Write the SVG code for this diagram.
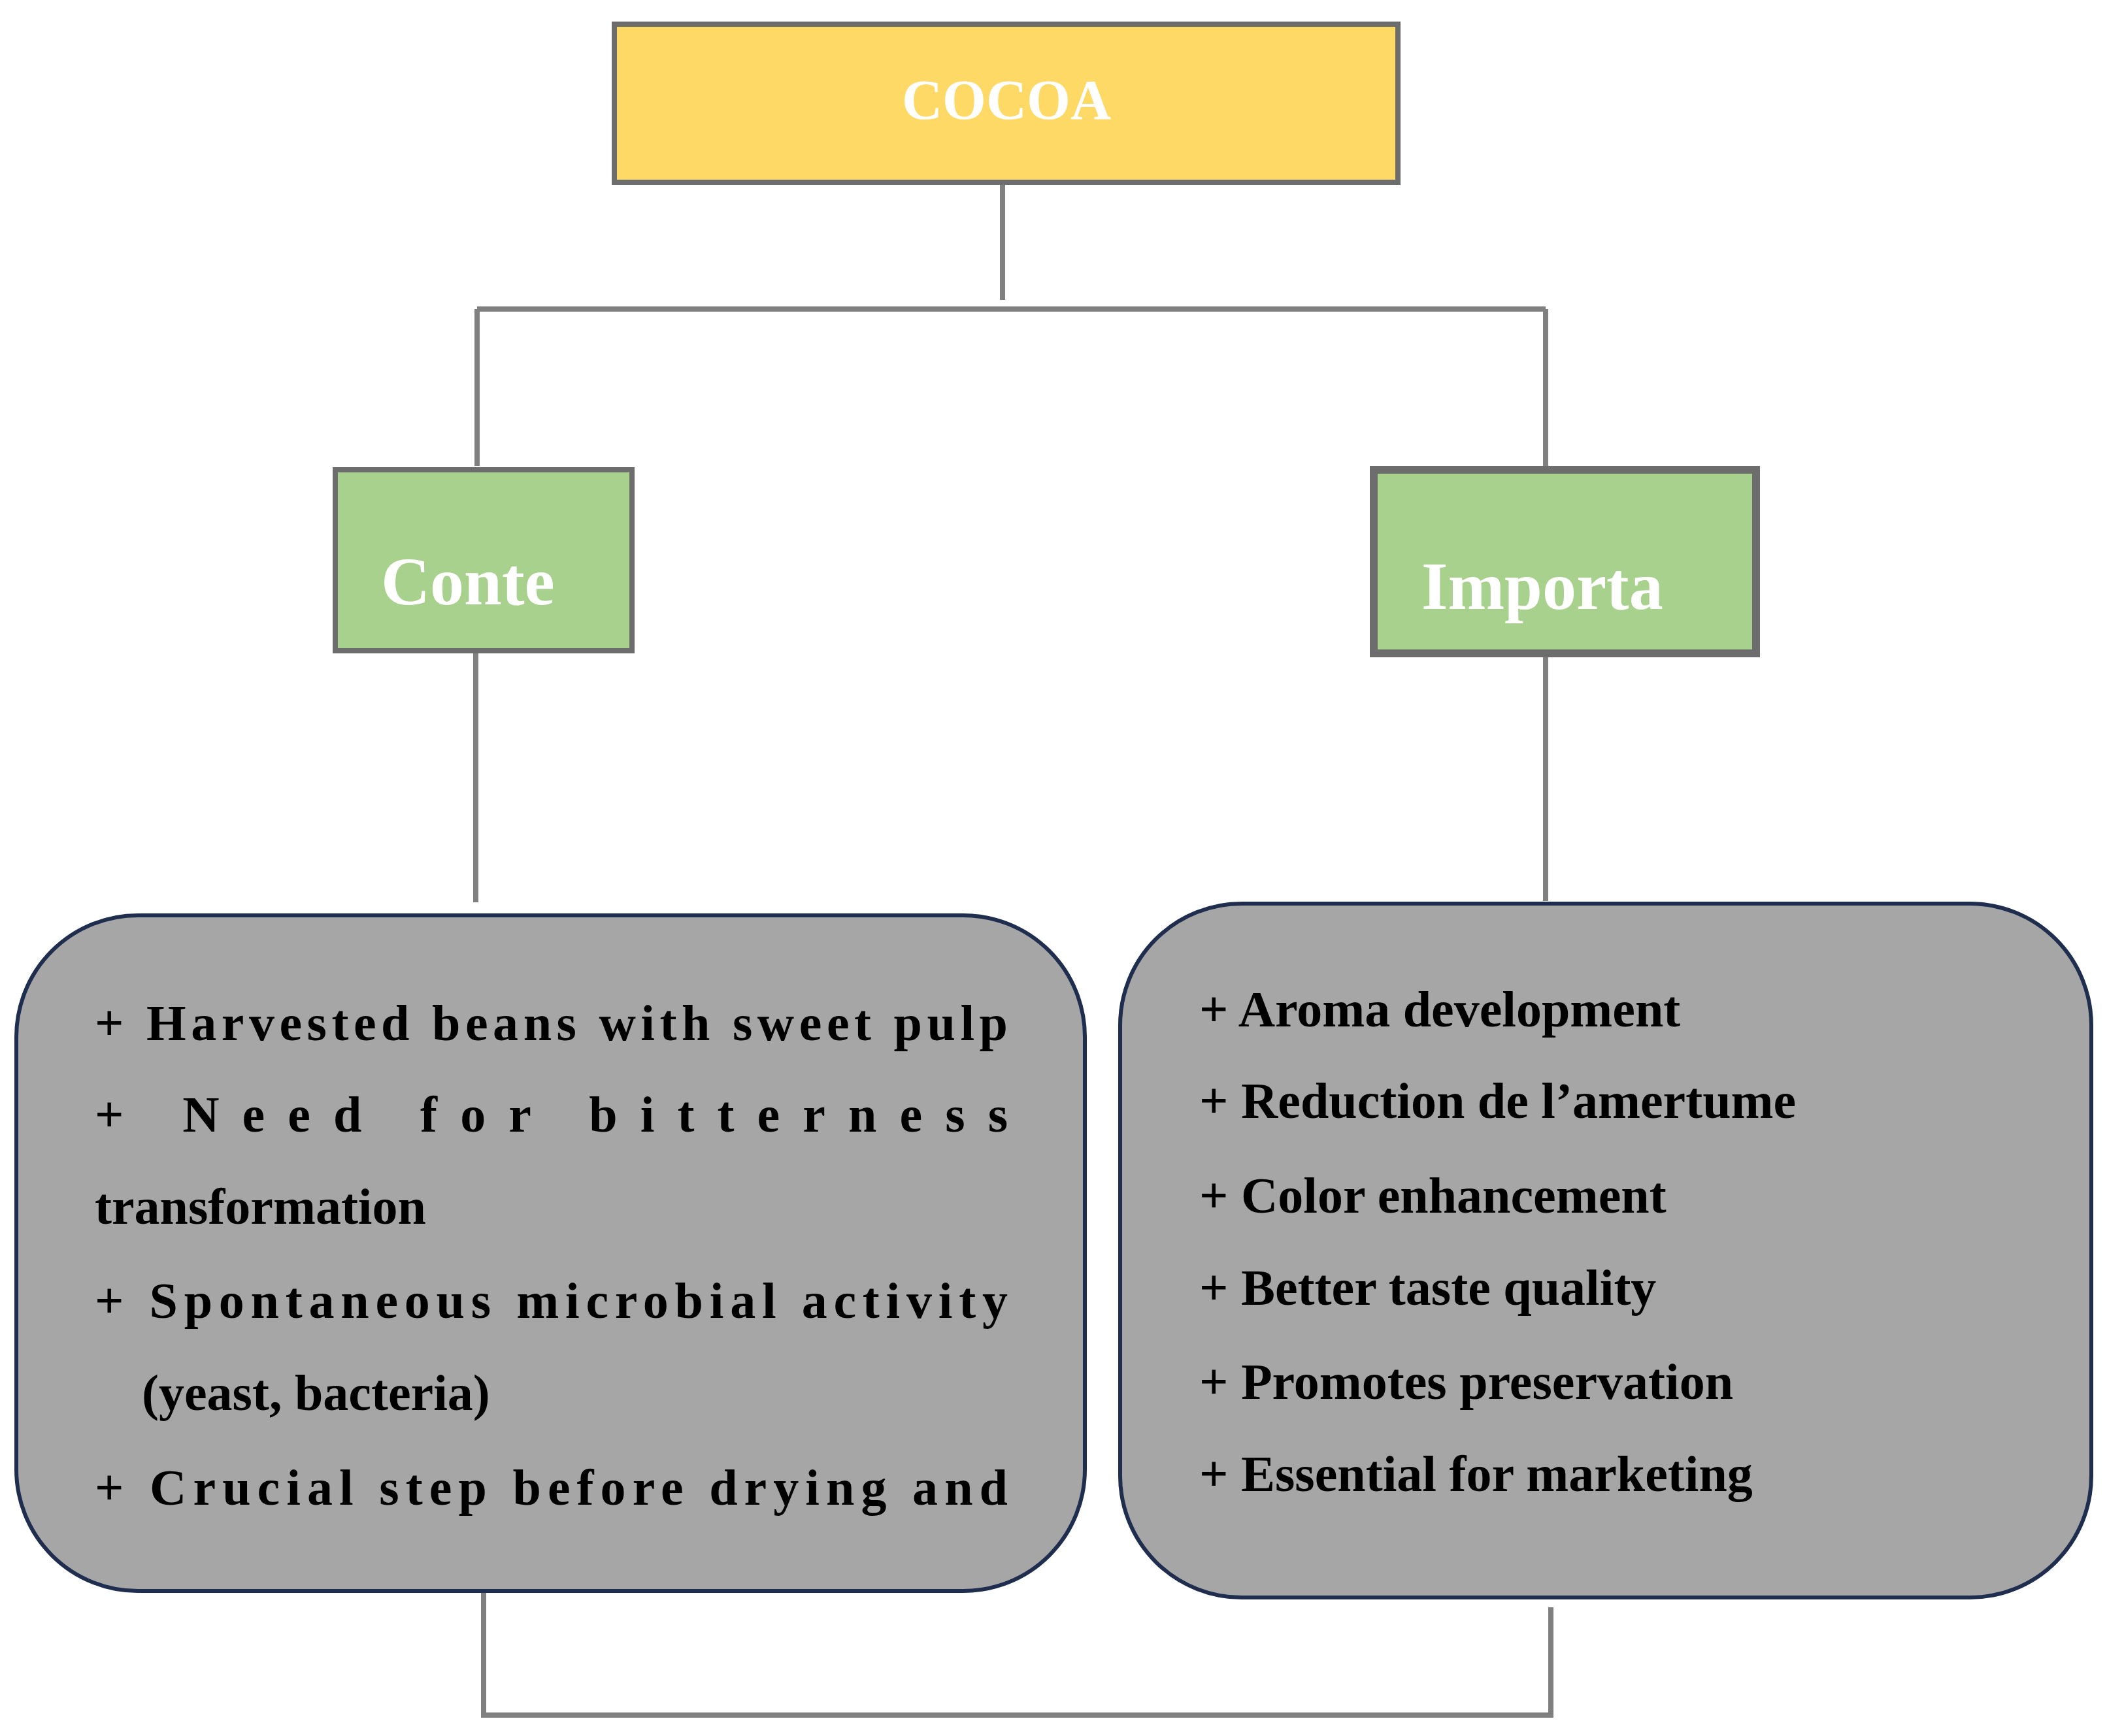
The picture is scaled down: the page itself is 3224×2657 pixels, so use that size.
<svg xmlns="http://www.w3.org/2000/svg" width="3224" height="2657" viewBox="0 0 3224 2657">
<style>
.ln{stroke:#808080;stroke-width:8;fill:none}
.t{font-family:"Liberation Serif",serif;font-weight:bold;font-size:78px;fill:#000}
.h{font-family:"Liberation Serif",serif;font-weight:bold;fill:#fff}
.bx{fill:#a6a6a6;stroke:#1f2d4e;stroke-width:6}
</style>
<rect width="3224" height="2657" fill="#fff"/>
<g id="connectors">
<path class="ln" d="M1534 279V459M730 473H2365M730 473V713M2365 473V713M728 996V1381M2365 1000V1379M740 2435V2625H2373V2460"/>
</g>
<g id="cocoa"><rect x="940" y="37" width="1199" height="242" fill="#ffd966" stroke="#6d6d6d" stroke-width="8"/><text class="h" x="1540" y="182" font-size="86" text-anchor="middle">COCOA</text></g>
<g id="conte"><rect x="513" y="719" width="454" height="277" fill="#a9d18e" stroke="#6d6d6d" stroke-width="8"/><text class="h" x="583" y="925" font-size="104">Conte</text></g>
<g id="importa"><rect x="2102" y="719" width="585" height="281" fill="#a9d18e" stroke="#6d6d6d" stroke-width="12"/><text class="h" x="2175" y="932" font-size="104">Importa</text></g>
<g id="left">
<rect class="bx" x="25" y="1401" width="1635" height="1034" rx="186"/>
<text class="t" x="145" y="1592" textLength="1397" lengthAdjust="spacing">+ Harvested beans with sweet pulp</text>
<text class="t" x="145" y="1732" textLength="1397" lengthAdjust="spacing">+ Need for bitterness</text>
<text class="t" x="145" y="1873">transformation</text>
<text class="t" x="145" y="2017" textLength="1397" lengthAdjust="spacing">+ Spontaneous microbial activity</text>
<text class="t" x="217" y="2158">(yeast, bacteria)</text>
<text class="t" x="145" y="2303" textLength="1397" lengthAdjust="spacing">+ Crucial step before drying and</text>
</g>
<g id="right">
<rect class="bx" x="1714" y="1383" width="1486" height="1062" rx="186"/>
<text class="t" x="1835" y="1571">+ Aroma development</text>
<text class="t" x="1835" y="1711">+ Reduction de l’amertume</text>
<text class="t" x="1835" y="1856">+ Color enhancement</text>
<text class="t" x="1835" y="1997">+ Better taste quality</text>
<text class="t" x="1835" y="2141">+ Promotes preservation</text>
<text class="t" x="1835" y="2282">+ Essential for marketing</text>
</g>
</svg>
